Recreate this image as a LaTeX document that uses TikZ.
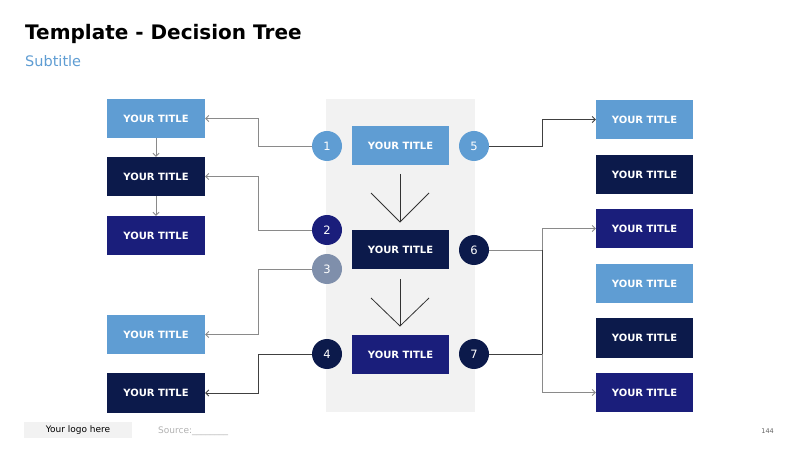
\documentclass[tikz,border=0pt]{standalone}
\usepackage{fontspec}
\setmainfont{DejaVu Sans}
\usetikzlibrary{arrows.meta}
\definecolor{lblue}{HTML}{5F9DD3}
\definecolor{dnavy}{HTML}{0C1A4B}
\definecolor{mnavy}{HTML}{1A1E7B}
\definecolor{gnavy}{HTML}{7F8FAB}
\definecolor{panel}{HTML}{F2F2F2}
\definecolor{conn}{HTML}{8A8A8A}
\definecolor{dconn}{HTML}{404040}
\tikzset{
  tbox/.style={minimum width=98bp,minimum height=39bp,inner sep=0pt,text=white,
    font=\fontsize{10bp}{12bp}\selectfont\bfseries},
  num/.style={circle,minimum size=30bp,inner sep=0pt,text=white,
    font=\fontsize{11.5bp}{13bp}\selectfont},
  conn/.style={draw=conn,line width=0.8bp},
  dconnst/.style={draw=dconn,line width=0.8bp},
  arr/.style={conn,-{Straight Barb[length=3bp,width=6bp]}},
  darr/.style={dconnst,-{Straight Barb[length=3bp,width=6bp]}},
  chev/.style={draw=black!80,line width=0.8bp}
}
\begin{document}
\begin{tikzpicture}[x=1bp,y=-1bp]
\useasboundingbox (0,0) rectangle (800,449);
\fill[white] (0,0) rectangle (800,449);
% title
\node[anchor=base west,inner sep=0pt,font=\fontsize{20bp}{23bp}\selectfont\bfseries] (title) at (25,40) {Template - Decision Tree};
\node[anchor=base west,inner sep=0pt,text=lblue,font=\fontsize{14.5bp}{17bp}\selectfont] (sub) at (25,67) {Subtitle};
% panel
\fill[panel] (326,99) rectangle (475,412);
% left boxes
\node[tbox,fill=lblue] (L1) at (156,118.5) {YOUR TITLE};
\node[tbox,fill=dnavy] (L2) at (156,176.5) {YOUR TITLE};
\node[tbox,fill=mnavy] (L3) at (156,235.5) {YOUR TITLE};
\node[tbox,fill=lblue] (L4) at (156,334.5) {YOUR TITLE};
\node[tbox,fill=dnavy] (L5) at (156,393) {YOUR TITLE};
% center boxes
\node[tbox,minimum width=97bp,fill=lblue] (C1) at (400.5,145.5) {YOUR TITLE};
\node[tbox,minimum width=97bp,fill=dnavy] (C2) at (400.5,249.5) {YOUR TITLE};
\node[tbox,minimum width=97bp,fill=mnavy] (C3) at (400.5,354.5) {YOUR TITLE};
% right boxes
\node[tbox,minimum width=97bp,fill=lblue] (R1) at (644.5,119.5) {YOUR TITLE};
\node[tbox,minimum width=97bp,fill=dnavy] (R2) at (644.5,174.5) {YOUR TITLE};
\node[tbox,minimum width=97bp,fill=mnavy] (R3) at (644.5,228.5) {YOUR TITLE};
\node[tbox,minimum width=97bp,fill=lblue] (R4) at (644.5,283.5) {YOUR TITLE};
\node[tbox,minimum width=97bp,fill=dnavy] (R5) at (644.5,338) {YOUR TITLE};
\node[tbox,minimum width=97bp,fill=mnavy] (R6) at (644.5,392.5) {YOUR TITLE};
% circles
\node[num,fill=lblue] (n1) at (327,146) {1};
\node[num,fill=mnavy] (n2) at (327,230) {2};
\node[num,fill=gnavy] (n3) at (327,269) {3};
\node[num,fill=dnavy] (n4) at (327,354) {4};
\node[num,fill=lblue] (n5) at (474,146) {5};
\node[num,fill=dnavy] (n6) at (474,250) {6};
\node[num,fill=dnavy] (n7) at (474,354) {7};
% left connectors
\draw[arr] (n1.west) -| (258,118.5) -- (L1.east);
\draw[arr] (n2.west) -| (258,176.5) -- (L2.east);
\draw[arr] (n3.west) -| (258,334.5) -- (L4.east);
\draw[darr] (n4.west) -| (258,393) -- (L5.east);
\draw[arr] (L1.south) -- (L2.north);
\draw[arr] (L2.south) -- (L3.north);
% right connectors
\coordinate (j5) at (542,146);
\coordinate (j6) at (542,250);
\coordinate (j7) at (542,354);
\draw[darr] (n5.east) -- (j5) |- (R1.west);
\draw[arr] (n6.east) -- (j6) |- (R3.west);
\draw[dconnst] (j6) -- (j7);
\draw[dconnst] (n7.east) -- (j7);
\draw[arr] (j7) |- (R6.west);
% chevrons
\coordinate (a1) at (400,174);
\coordinate (a2) at (400,222);
\draw[chev] (a1) -- (a2);
\draw[chev] (371,193) -- (a2) -- (429,193);
\coordinate (b1) at (400,279);
\coordinate (b2) at (400,326);
\draw[chev] (b1) -- (b2);
\draw[chev] (371,298) -- (b2) -- (429,298);
% footer
\node[fill=panel,minimum width=108bp,minimum height=16bp,inner sep=0pt,font=\fontsize{9bp}{11bp}\selectfont] (logo) at (78,430) {Your logo here};
\node[anchor=west,inner sep=0pt,text=black!30,font=\fontsize{9bp}{11bp}\selectfont] (src) at (158,431) {Source:\_\_\_\_\_\_\_\_};
\node[anchor=east,inner sep=0pt,text=black!60,font=\fontsize{6.5bp}{8bp}\selectfont] (pg) at (774,431) {144};
\end{tikzpicture}
\end{document}
